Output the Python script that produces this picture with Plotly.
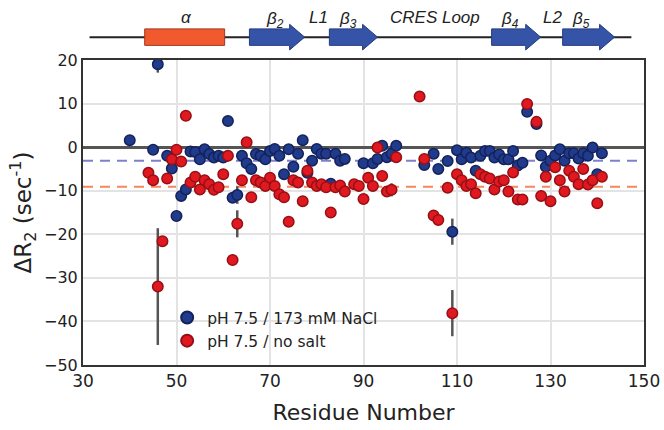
import plotly.graph_objects as go

# ---------------- data ----------------
res_nacl = [40, 45, 46, 48, 49, 50, 51, 52, 53, 54, 55, 56, 57, 58, 59, 60, 61, 62, 63, 64,
            65, 66, 67, 68, 69, 70, 71, 72, 73, 74, 75, 76, 77, 78, 79, 80, 81, 82, 83, 84,
            85, 86, 90, 92, 93, 94, 95, 96, 97, 103, 105, 106, 108, 109, 110, 111, 112, 113,
            114, 115, 116, 117, 118, 119, 120, 121, 122, 123, 124, 125, 127, 128, 129, 130,
            131, 132, 133, 134, 135, 136, 137, 138, 139, 140, 141]
dr2_nacl = [1.6, -0.6, 19.0, -2.0, -4.9, -15.8, -11.2, -9.7, -1.0, -1.1, -2.8, -0.5, -1.6, -2.4,
            -2.0, -2.4, 6.0, -11.6, -11.0, -2.0, -3.7, -5.0, -1.6, -2.0, -2.8, -0.9, -0.4, -2.0,
            -6.2, -0.5, -4.5, -1.5, 1.6, -5.9, -3.1, -0.4, -1.5, -1.5, -8.4, -1.5, -3.1, -2.7,
            -3.7, -3.7, -2.7, 0.3, -2.3, -1.5, 0.3, -4.1, -1.5, -5.0, -3.2, -19.4, -0.7, -2.8,
            -1.3, -2.4, -5.4, -2.0, -0.9, -0.9, -2.4, -1.7, -2.8, -2.8, -0.9, -4.2, -3.6, 8.1,
            5.3, -1.9, -4.5, -3.1, -1.9, -0.5, -3.1, -1.4, -1.4, -2.6, -1.4, -2.0, -0.1, -6.2,
            -1.4]
err_nacl = {46: 1.9, 63: 2.0, 109: 3.0}

res_nosalt = [44, 45, 46, 47, 48, 49, 50, 51, 52, 53, 54, 55, 56, 57, 58, 59, 60, 61, 62, 63,
              64, 65, 66, 67, 68, 69, 70, 71, 72, 73, 74, 75, 76, 77, 78, 79, 80, 81, 82, 83,
              84, 85, 86, 88, 89, 90, 91, 92, 93, 94, 95, 96, 97, 102, 103, 105, 106, 108, 109,
              110, 111, 112, 113, 114, 115, 116, 117, 118, 119, 120, 121, 122, 123, 124, 125,
              127, 128, 129, 130, 131, 132, 133, 134, 135, 136, 137, 138, 139, 140, 141]
dr2_nosalt = [-5.9, -7.6, -32.0, -21.6, -7.2, -2.8, -0.6, -3.3, 7.2, -8.1, -6.8, -9.7, -7.6,
              -8.5, -9.8, -9.2, -6.2, -2.0, -25.9, -17.6, -7.6, 1.1, -11.5, -7.6, -8.1, -8.9,
              -7.0, -8.9, -10.8, -11.5, -17.1, -7.6, -8.1, -12.4, -5.4, -8.1, -8.9, -8.5, -9.2,
              -15.0, -9.2, -8.8, -10.2, -8.5, -8.9, -11.9, -7.0, -8.9, -0.1, -6.6, -10.2, -9.8,
              -2.3, 11.6, -2.7, -15.7, -16.7, -9.3, -38.1, -6.2, -7.6, -8.9, -8.5, -10.6, -6.2,
              -6.8, -7.2, -9.7, -7.9, -7.6, -10.2, -5.8, -12.0, -12.0, 9.9, 5.8, -11.2, -6.8,
              -12.4, -4.6, -7.6, -10.2, -5.4, -6.8, -8.5, -5.0, -8.6, -7.6, -12.9, -6.8]
err_nosalt = {46: 13.4, 62: 1.0, 63: 3.1, 74: 1.2, 77: 1.0, 96: 1.5, 109: 5.3, 128: 1.2}

mean_nacl = -3.1
mean_nosalt = -9.1

series_names = ["pH 7.5 / 173 mM NaCl", "pH 7.5 / no salt"]

# secondary structure (residue ranges) and labels (residue centre)
helix = [(43.2, 60.3)]
strands = [(65.6, 77.4), (82.7, 93.0), (117.4, 127.9), (132.6, 143.7)]
ss_labels = [("α", 52.2), ("β<sub>2</sub>", 71.0), ("L1", 80.4), ("β<sub>3</sub>", 86.6),
             ("CRES Loop", 105.2), ("β<sub>4</sub>", 121.3), ("L2", 130.4),
             ("β<sub>5</sub>", 136.5)]
ss_line = (31.4, 147.3)

x_range = [30, 150]
y_range = [-50, 20]

# ---------------- figure ----------------
FONT = "Liberation Sans, Arial, Helvetica, sans-serif"
WIDE = "DejaVu Sans, Verdana, sans-serif"
fig = go.Figure()

def errs(res, d):
    return [d.get(r, 0) for r in res]

fig.add_trace(go.Scatter(
    x=res_nacl, y=dr2_nacl, mode="markers", name=series_names[0],
    marker=dict(size=10.5, color="#203a8c", line=dict(color="#14225a", width=1.5)),
    error_y=dict(type="data", array=errs(res_nacl, err_nacl), color="#555555",
                 thickness=2.5, width=0),
))
fig.add_trace(go.Scatter(
    x=res_nosalt, y=dr2_nosalt, mode="markers", name=series_names[1],
    marker=dict(size=10.5, color="#e01820", line=dict(color="#961015", width=1.5)),
    error_y=dict(type="data", array=errs(res_nosalt, err_nosalt), color="#555555",
                 thickness=2.5, width=0),
))

shapes = [
    dict(type="line", xref="paper", yref="y", x0=0, x1=1, y0=mean_nacl, y1=mean_nacl,
         line=dict(color="#7f80cc", width=2, dash="10px,7px"), layer="between"),
    dict(type="line", xref="paper", yref="y", x0=0, x1=1, y0=mean_nosalt, y1=mean_nosalt,
         line=dict(color="#f5875f", width=2, dash="10px,7px"), layer="between"),
]

def px(r):
    return (r - x_range[0]) / (x_range[1] - x_range[0])

y_mid = 1.075
box_h = 0.027
head_h = 0.042
shapes.append(dict(type="line", xref="paper", yref="paper", x0=px(ss_line[0]), x1=px(ss_line[1]),
                   y0=y_mid, y1=y_mid, line=dict(color="#222222", width=2), layer="above"))
for a, b in helix:
    shapes.append(dict(type="rect", xref="paper", yref="paper", x0=px(a), x1=px(b),
                       y0=y_mid - box_h, y1=y_mid + box_h, fillcolor="#f15a2f",
                       line=dict(color="#a0351c", width=1), layer="above"))
for a, b in strands:
    base = b - 3.2
    x0, xb, xt = px(a), px(base), px(b)
    path = (f"M{x0},{y_mid - box_h} L{xb},{y_mid - box_h} L{xb},{y_mid - head_h} "
            f"L{xt},{y_mid} L{xb},{y_mid + head_h} L{xb},{y_mid + box_h} "
            f"L{x0},{y_mid + box_h} Z")
    shapes.append(dict(type="path", xref="paper", yref="paper", path=path,
                       fillcolor="#3554a8", line=dict(color="#243c80", width=1), layer="above"))

annotations = []
for lab, xc in ss_labels:
    has_sub = "<sub>" in lab
    annotations.append(dict(x=xc, y=1.13 if has_sub else 1.14, xref="x", yref="paper",
                            text=f"<i>{lab}</i>", showarrow=False, yanchor="middle",
                            font=dict(size=17, color="#222", family=FONT)))

fig.update_layout(
    width=664, height=430,
    margin=dict(l=83, r=20, t=60, b=65),
    paper_bgcolor="white", plot_bgcolor="white",
    font=dict(family=FONT, color="#222222"),
    shapes=shapes, annotations=annotations,
    showlegend=True,
    legend=dict(x=0.15, y=0.21, xanchor="left", yanchor="top",
                bgcolor="rgba(0,0,0,0)", font=dict(size=15.5, color="#222", family=WIDE),
                itemsizing="constant", tracegroupgap=0),
    xaxis=dict(range=x_range, tickvals=list(range(30, 151, 20)), showgrid=True,
               gridcolor="#e3e3e3", gridwidth=1.5, showline=True, linecolor="#333333",
               linewidth=2, mirror=True, ticks="", automargin=False,
               tickfont=dict(size=17, color="#222", family=WIDE),
               title=dict(text="Residue Number", font=dict(size=22, color="#222", family=WIDE),
                          standoff=14),
               zeroline=False),
    yaxis=dict(range=y_range, tickvals=list(range(-50, 21, 10)), showgrid=True,
               gridcolor="#e3e3e3", gridwidth=1.5, showline=True, linecolor="#333333",
               linewidth=2, mirror=True, ticks="", automargin=False,
               tickfont=dict(size=16, color="#222", family=WIDE),
               zeroline=True, zerolinecolor="#555555", zerolinewidth=2.5,
               title=dict(text="ΔR<sub>2</sub> (sec<sup>-1</sup>)",
                          font=dict(size=23, color="#222", family=WIDE), standoff=6)),
)

fig.write_html("out.html", post_script="document.body.style.margin='0';",
               config={"displayModeBar": False})
